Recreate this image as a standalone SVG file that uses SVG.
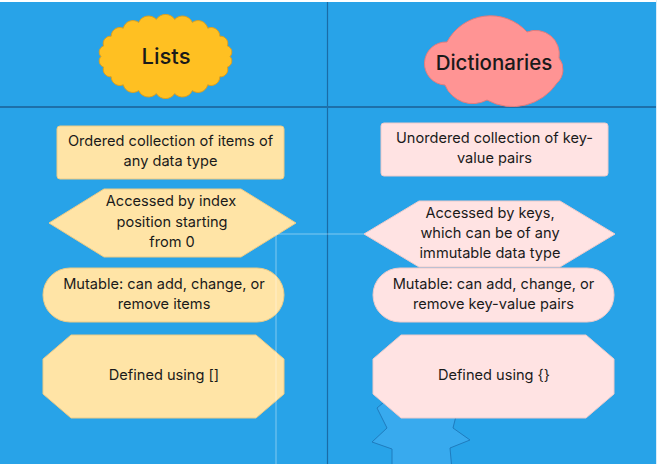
<svg xmlns="http://www.w3.org/2000/svg" width="657" height="464" viewBox="0 0 657 464">
<style>
  text { font-family: Inter, "Liberation Sans", sans-serif; fill: #1a1a1a; text-anchor: middle; }
  .body { font-size: 14.6px; }
  .title { font-size: 22px; font-weight: 500; }
  .yel { fill: #FFE4A6; stroke: #ECCB86; stroke-width: 1; stroke-linejoin: round; }
  .pink { fill: #FFE3E3; stroke: #EDCACA; stroke-width: 1; stroke-linejoin: round; }
  .conn { fill: none; stroke: #ffffff; stroke-opacity: 0.28; stroke-width: 1.5; }
</style>
<rect x="0" y="0" width="657" height="464" fill="#28A3E8"/>
<rect x="0" y="0" width="657" height="2" fill="#ffffff"/>
<rect x="656" y="0" width="1" height="464" fill="#d8ecf8"/>
<g id="dividers">
  <line x1="327.5" y1="2" x2="327.5" y2="464" stroke="#1A6BA6" stroke-width="1.2"/>
  <line x1="0" y1="107" x2="656" y2="107" stroke="#1D70AA" stroke-width="2"/>
</g>
<g id="star">
  <polygon points="377,408 410,380 457,412 453,428 470,440 450,448 452,470 392,470 392,449 372,442 387,428" fill="#38AAEE" stroke="#1F7CBE" stroke-width="1"/>
</g>
<g id="lists-title">
  <path d="M230,56.5 A6.5,6.5 0 0 1 227.4,67.1 A7.4,7.4 0 0 1 219.8,76.8 A8.7,8.7 0 0 1 207.7,84.8 A9.9,9.9 0 0 1 192.3,90.6 A10.7,10.7 0 0 1 174.7,93.6 A11,11 0 0 1 156.3,93.6 A10.7,10.7 0 0 1 138.7,90.6 A9.9,9.9 0 0 1 123.3,84.8 A8.7,8.7 0 0 1 111.2,76.8 A7.4,7.4 0 0 1 103.6,67.1 A6.5,6.5 0 0 1 101,56.5 A6.5,6.5 0 0 1 103.6,45.9 A7.4,7.4 0 0 1 111.2,36.2 A8.7,8.7 0 0 1 123.3,28.2 A9.9,9.9 0 0 1 138.7,22.4 A10.7,10.7 0 0 1 156.3,19.4 A11,11 0 0 1 174.7,19.4 A10.7,10.7 0 0 1 192.3,22.4 A9.9,9.9 0 0 1 207.7,28.2 A8.7,8.7 0 0 1 219.8,36.2 A7.4,7.4 0 0 1 227.4,45.9 A6.5,6.5 0 0 1 230,56.5 Z" fill="#FFC022" stroke="#DFA01C" stroke-width="1"/>
  <text class="title" x="166" y="64">Lists</text>
</g>
<g id="dict-title">
  <path d="M447,42 A49.2,49.2 0 0 1 527,32 A23.7,23.7 0 0 1 559,58 A18.3,18.3 0 0 1 557,83 A53.3,53.3 0 0 1 487,100 A29.9,29.9 0 0 1 445,85 A21.5,21.5 0 0 1 447,42 Z" fill="#FF9494" stroke="#E27C7C" stroke-width="1"/>
  <text class="title" x="494" y="70" style="font-size:20.5px">Dictionaries</text>
</g>
<g id="l1">
  <rect class="yel" x="57" y="126" width="227" height="53" rx="3"/>
  <text class="body" x="170.5" y="146">Ordered collection of items of</text>
  <text class="body" x="170.5" y="166">any data type</text>
</g>
<g id="l2">
  <polygon class="yel" points="49,223 104,189 241,189 296,223 241,257 104,257"/>
  <text class="body" x="171" y="206">Accessed by index</text>
  <text class="body" x="172" y="226.5">position starting</text>
  <text class="body" x="172" y="246.5">from 0</text>
</g>
<g id="l3">
  <rect class="yel" x="43" y="268" width="241" height="54" rx="27"/>
  <text class="body" x="164" y="288.5">Mutable: can add, change, or</text>
  <text class="body" x="164" y="308.5">remove items</text>
</g>
<g id="l4">
  <polygon class="yel" points="71,335 256,335 284,359 284,394 256,418 71,418 43,394 43,359"/>
  <text class="body" x="164" y="380">Defined using []</text>
</g>
<g id="r1">
  <rect class="pink" x="381" y="123" width="227" height="53" rx="3"/>
  <text class="body" x="494.5" y="143.3">Unordered collection of key-</text>
  <text class="body" x="494.5" y="163.3">value pairs</text>
</g>
<g id="r2">
  <polygon class="pink" points="364,234 419,201 560,201 615,234 560,267 419,267"/>
  <text class="body" x="490" y="218.3">Accessed by keys,</text>
  <text class="body" x="490" y="238.3">which can be of any</text>
  <text class="body" x="490" y="258.3">immutable data type</text>
</g>
<g id="r3">
  <rect class="pink" x="373" y="268" width="241" height="54" rx="27"/>
  <text class="body" x="493.5" y="288.5">Mutable: can add, change, or</text>
  <text class="body" x="493.5" y="308.5">remove key-value pairs</text>
</g>
<g id="r4">
  <polygon class="pink" points="401,335 586,335 614,359 614,394 586,418 401,418 373,394 373,359"/>
  <text class="body" x="494" y="380">Defined using {}</text>
</g>
<g id="connectors">
  <path class="conn" d="M364,234 H276 V464"/>
</g>
</svg>
